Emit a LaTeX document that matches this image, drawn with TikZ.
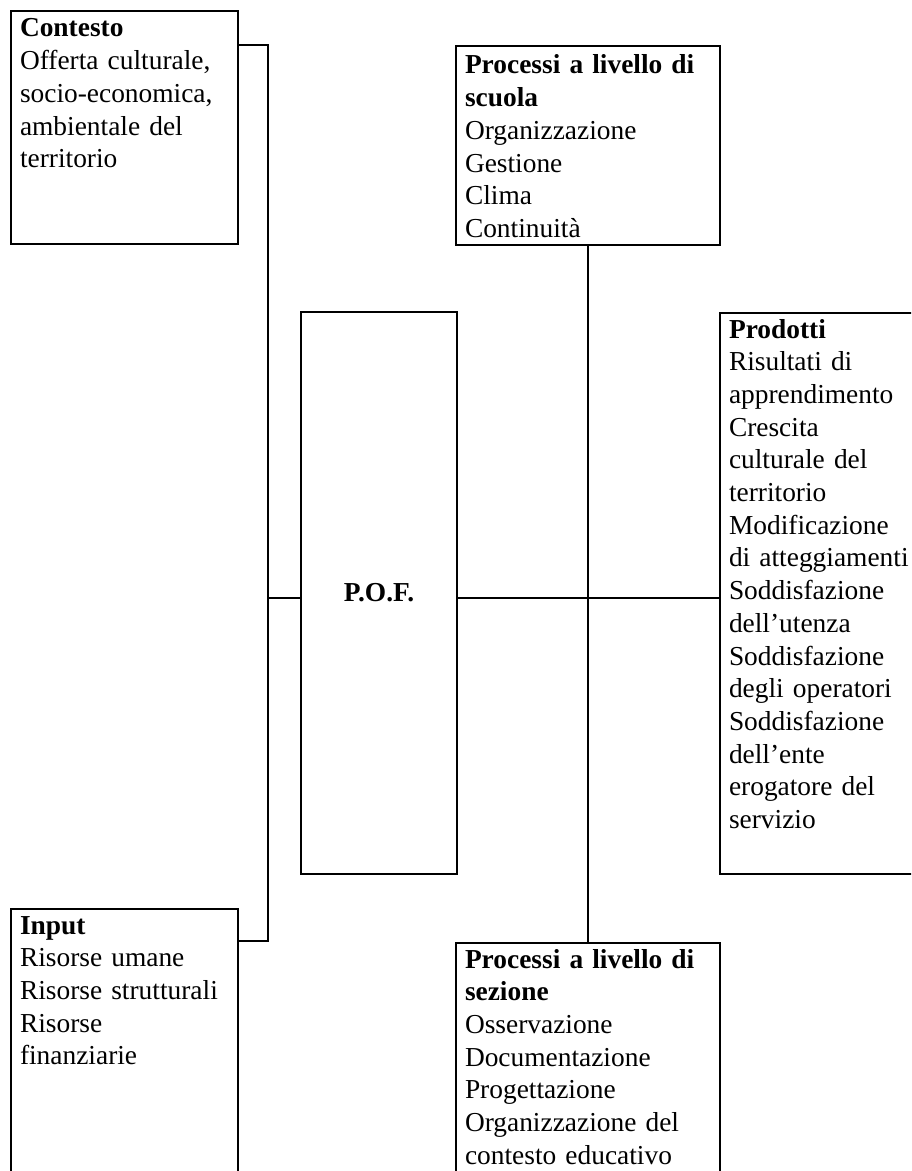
\documentclass[tikz,border=0pt]{standalone}
\usepackage{fontspec}
\setmainfont{Liberation Serif}
\begin{document}
\begin{tikzpicture}[x=0.5pt,y=-0.5pt,every node/.style={font=\fontsize{13.7}{16.35}\selectfont}]
    \tikzstyle{panel}=[draw,line width=1pt,anchor=north west,align=left,inner xsep=4.5pt,inner ysep=0pt,text height=12.5pt]
    \tikzstyle{link}=[line width=1pt]
    \useasboundingbox (0,0) rectangle (911,1171);
    \clip (0,0) rectangle (911,1171);
    \node[panel,text width=104.5pt,text height=13pt,text depth=103.5pt] (contesto) at (10,10)
      {\textbf{Contesto}\\Offerta culturale,\\socio-economica,\\ambientale del\\territorio};
    \node[panel,text width=123pt,text height=14pt,text depth=85.5pt] (scuola) at (455,45)
      {\textbf{Processi a livello di}\\\textbf{scuola}\\Organizzazione\\Gestione\\Clima\\Continuità};
    \node[draw,line width=1pt,anchor=north west,inner sep=0pt,minimum width=78pt,minimum height=281pt] (pof) at (300,311)
      {\textbf{P.O.F.}};
    \node[panel,text width=110pt,text depth=268pt] (prodotti) at (719,312)
      {\textbf{Prodotti}\\Risultati di\\apprendimento\\Crescita\\culturale del\\territorio\\Modificazione\\di atteggiamenti\\Soddisfazione\\dell’utenza\\Soddisfazione\\degli operatori\\Soddisfazione\\dell’ente\\erogatore del\\servizio};
    \node[panel,text width=104.5pt,text depth=140pt] (input) at (10,908)
      {\textbf{Input}\\Risorse umane\\Risorse strutturali\\Risorse\\finanziarie};
    \node[panel,text width=123pt,text height=12.5pt,text depth=140pt] (sezione) at (455,942)
      {\textbf{Processi a livello di}\\\textbf{sezione}\\Osservazione\\Documentazione\\Progettazione\\Organizzazione del\\contesto educativo};
    % joints of the connectors
    \coordinate (topjoin) at (268,45);
    \coordinate (lowjoin) at (268,941);
    \coordinate (hub) at (588,598);
    \draw[link] (contesto.east |- topjoin) -- (topjoin) -- (lowjoin) -- (input.east |- lowjoin);
    \draw[link] (pof.west |- hub) -- (topjoin |- hub);
    \draw[link] (pof.east |- hub) -- (prodotti.west |- hub);
    \draw[link] (scuola.south -| hub) -- (sezione.north -| hub);
\end{tikzpicture}
\end{document}
